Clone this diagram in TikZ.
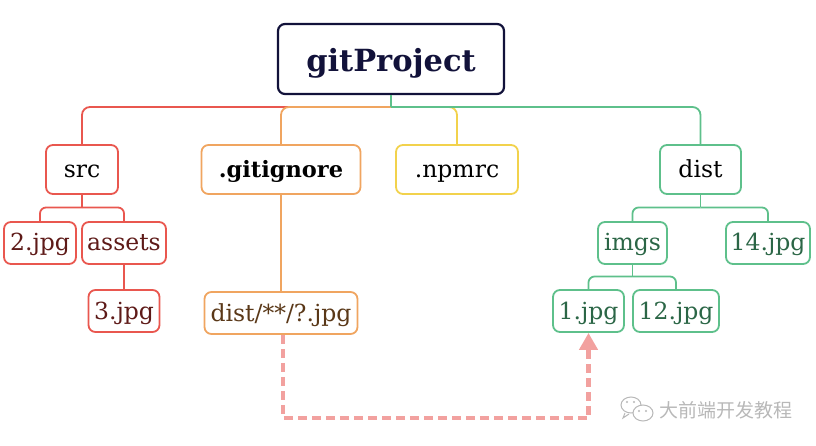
\documentclass[tikz,border=0pt]{standalone}
\usepackage{fontspec}
\setmainfont{DejaVu Serif}
\newfontfamily\cjk{Noto Sans CJK SC}
\usetikzlibrary{arrows.meta}
\definecolor{cRoot}{HTML}{12123A}
\definecolor{cRed}{HTML}{E9574F}
\definecolor{cRedT}{HTML}{5E1A18}
\definecolor{cOra}{HTML}{F0A560}
\definecolor{cOraT}{HTML}{5A3818}
\definecolor{cYel}{HTML}{F2D24C}
\definecolor{cGrn}{HTML}{5EC08B}
\definecolor{cGrnT}{HTML}{2B6646}
\definecolor{cPink}{HTML}{F2A19F}
\definecolor{cMark}{HTML}{B8B8B8}
\tikzset{
  box/.style={draw, line width=1.8pt, rounded corners=7pt, fill=white, inner sep=0pt,
              font=\fontsize{23.5}{26}\selectfont, text=black, text height=18pt, text depth=2pt},
  lvlone/.style={box, minimum height=49pt},
  lvltwo/.style={box, minimum height=42pt},
  conn/.style={line width=1.8pt},
  dasharrow/.style={draw=cPink, line width=4.5pt, dash pattern=on 9pt off 5pt,
                    -{Triangle[width=18pt,length=17pt,fill=cPink]}}
}
\begin{document}
\begin{tikzpicture}[x=1pt,y=-1pt]
\useasboundingbox (0,0) rectangle (816,446);
% nodes
\node[draw=cRoot, line width=2.2pt, rounded corners=7pt, minimum width=226pt, minimum height=70pt,
      inner sep=0pt, text=cRoot, text height=27pt, text depth=1pt,
      font=\bfseries\fontsize{30.5}{34}\selectfont] (root) at (391,59) {gitProject};

\node[lvlone, draw=cRed, minimum width=72pt] (src) at (82,169.5) {src};
\node[lvlone, draw=cOra, minimum width=159pt, font=\bfseries\fontsize{22.5}{26}\selectfont] (gitignore) at (281,169.5) {.gitignore};
\node[lvlone, draw=cYel, minimum width=122pt] (npmrc) at (457,169.5) {.npmrc};
\node[lvlone, draw=cGrn, minimum width=81pt] (dist) at (700.5,169.5) {dist};

\node[lvltwo, draw=cRed, text=cRedT, minimum width=72pt] (two) at (40,243) {2.jpg};
\node[lvltwo, draw=cRed, text=cRedT, minimum width=84pt] (assets) at (124,243) {assets};
\node[lvltwo, draw=cRed, text=cRedT, minimum width=71pt] (three) at (124,311) {3.jpg};
\node[lvltwo, draw=cOra, text=cOraT, minimum width=153pt] (pat) at (281,313) {dist/**/?.jpg};

\node[lvltwo, draw=cGrn, text=cGrnT, minimum width=69pt] (imgs) at (632.5,243) {imgs};
\node[lvltwo, draw=cGrn, text=cGrnT, minimum width=84pt] (fourteen) at (768,243) {14.jpg};
\node[lvltwo, draw=cGrn, text=cGrnT, minimum width=71pt] (one) at (588.5,311) {1.jpg};
\node[lvltwo, draw=cGrn, text=cGrnT, minimum width=86pt] (twelve) at (676,311) {12.jpg};

% junction coordinates
\coordinate (hub) at (391,107);
\coordinate (srcj) at (82,207.5);
\coordinate (distj) at (700.5,207.5);
\coordinate (imgsj) at (632.5,276.5);
\coordinate (dc) at (588.5,418);

% level 1 connectors
\draw[conn, draw=cRed, rounded corners=8pt] (hub) -| (src.north);
\draw[conn, draw=cOra, rounded corners=8pt] (hub) -| (gitignore.north);
\draw[conn, draw=cYel, rounded corners=8pt] (hub) -| (npmrc.north);
\draw[conn, draw=cGrn, rounded corners=8pt] (hub) -| (dist.north);
\draw[conn, draw=cGrn] (root.south) -- (hub);

% src children
\draw[conn, draw=cRed] (src.south) -- (srcj);
\draw[conn, draw=cRed, rounded corners=6pt] (srcj) -| (two.north);
\draw[conn, draw=cRed, rounded corners=6pt] (srcj) -| (assets.north);
\draw[conn, draw=cRed] (assets.south) -- (three.north);
% gitignore child
\draw[conn, draw=cOra] (gitignore.south) -- (pat.north);
% dist children
\draw[conn, draw=cGrn] (dist.south) -- (distj);
\draw[conn, draw=cGrn, rounded corners=6pt] (distj) -| (imgs.north);
\draw[conn, draw=cGrn, rounded corners=6pt] (distj) -| (fourteen.north);
\draw[conn, draw=cGrn] (imgs.south) -- (imgsj);
\draw[conn, draw=cGrn, rounded corners=6pt] (imgsj) -| (one.north);
\draw[conn, draw=cGrn, rounded corners=6pt] (imgsj) -| (twelve.north);

% dashed arrow
\draw[dasharrow] ([xshift=2pt]pat.south) |- (dc) -- (one.south);

% watermark
\begin{scope}[draw=cMark, line width=1pt]
  \draw[fill=white] (631,405) ellipse (10pt and 8pt);
  \draw (625,413) -- (623,418) -- (629,414);
  \draw[fill=white] (643,413) ellipse (10pt and 8pt);
  \fill[cMark] (627,402) circle (1.1pt) (634,402) circle (1.1pt)
               (639,411) circle (1.1pt) (646,411) circle (1.1pt);
\end{scope}
\node[text=cMark, font=\cjk\fontsize{19}{22}\selectfont, inner sep=0pt] (mark) at (726,410) {大前端开发教程};
\end{tikzpicture}
\end{document}
